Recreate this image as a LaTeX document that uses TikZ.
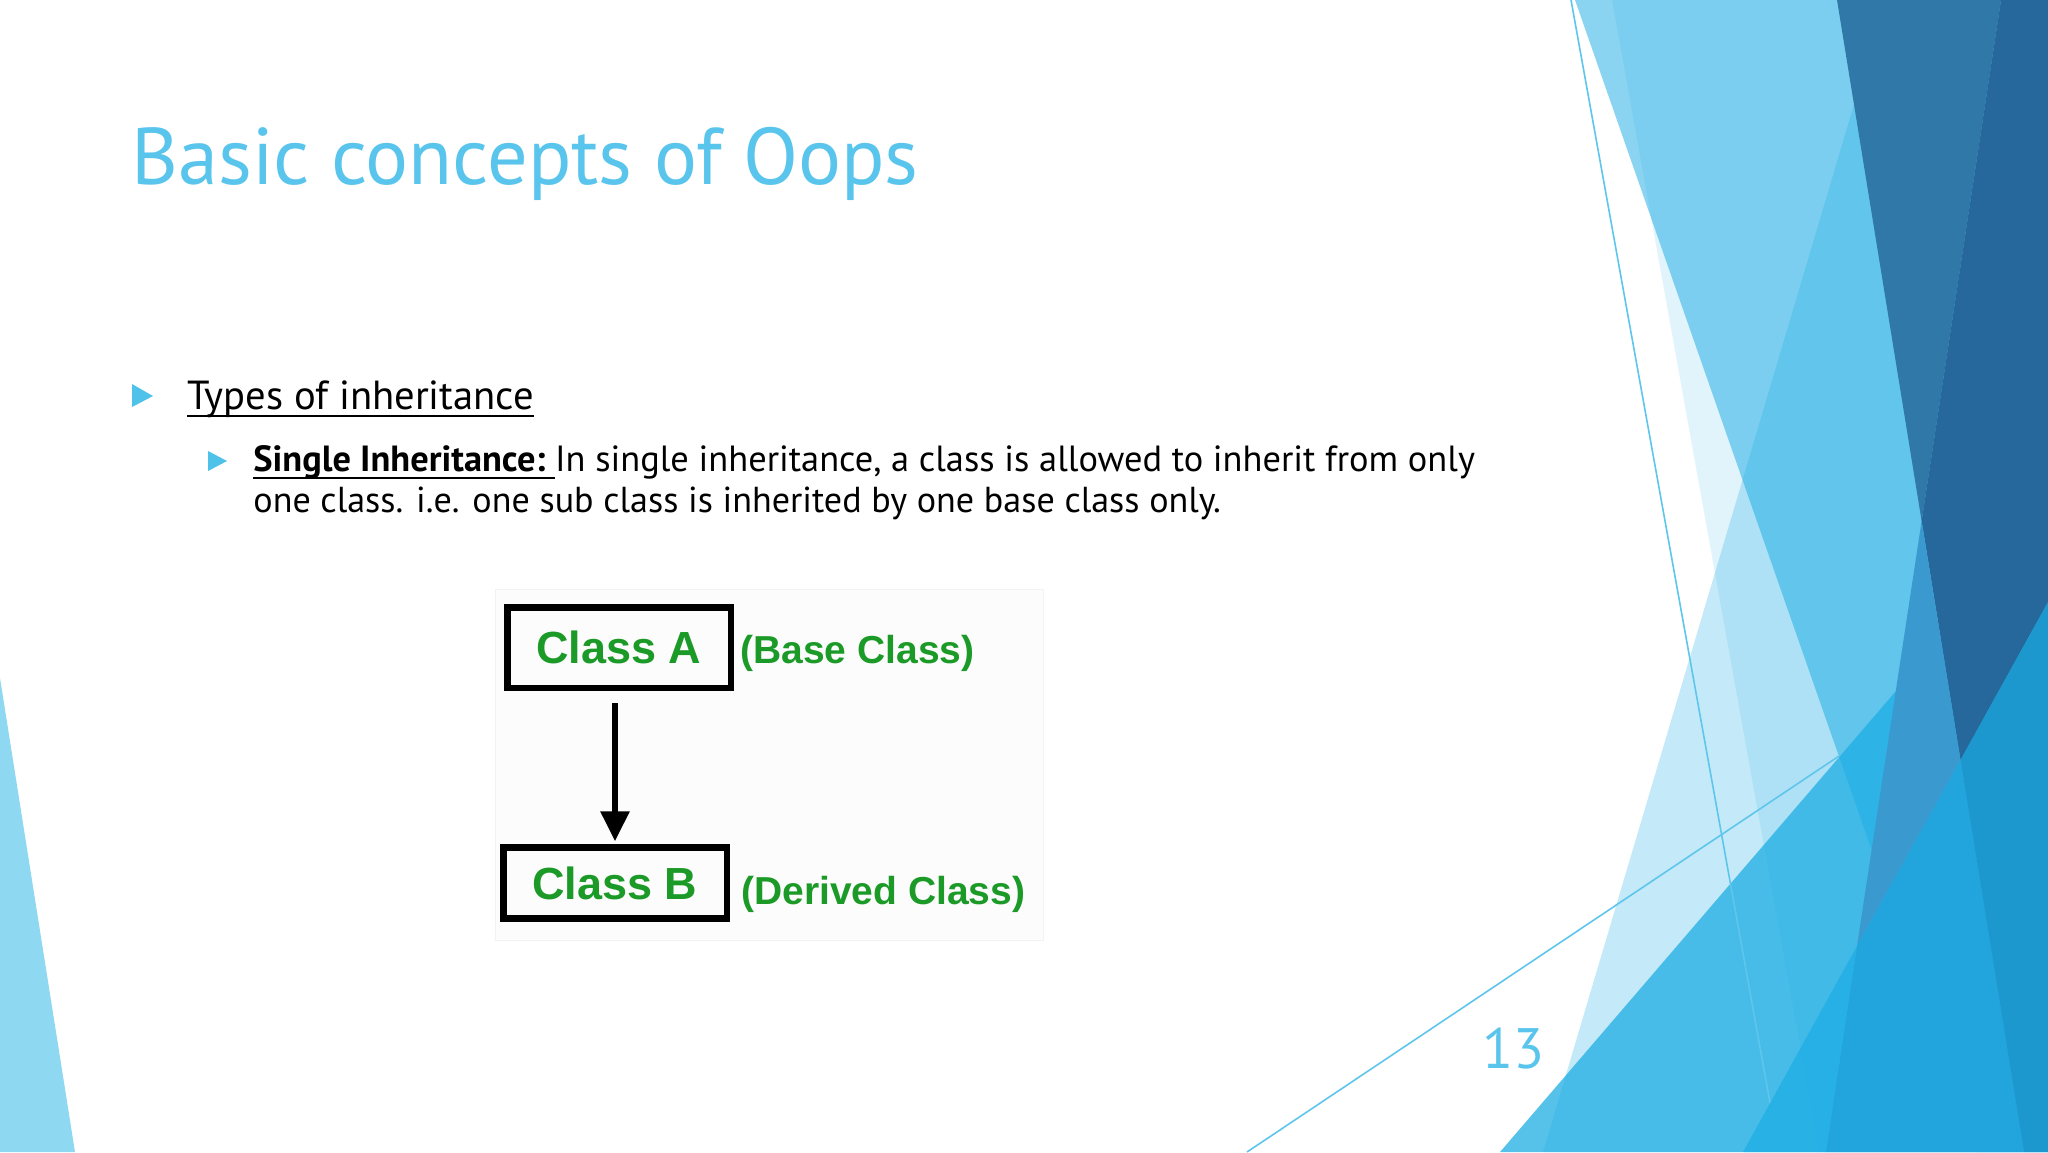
\documentclass[tikz,border=0pt]{standalone}
\usepackage{fontspec}
\setmainfont{PT Sans}
\newfontfamily\diagfont{Liberation Sans}
\usetikzlibrary{arrows.meta}
\definecolor{cyanA}{HTML}{1CADE4}
\definecolor{titleblue}{HTML}{5AC5EC}
\definecolor{bulletblue}{HTML}{4FC2EA}
\definecolor{darkA}{HTML}{2F78A8}
\definecolor{darkB}{HTML}{27689C}
\definecolor{midA}{HTML}{3A9AD0}
\definecolor{tealB}{HTML}{22A5DC}
\definecolor{tealC}{HTML}{1C98CF}
\definecolor{leftblue}{HTML}{8FD8F1}
\definecolor{thinline}{HTML}{5EC6EC}
\definecolor{classgreen}{HTML}{1C9A28}
\newcommand{\slideul}[1]{\setbox0\hbox{#1}\rlap{\rule[-3.8pt]{\wd0}{1pt}}\box0}
\tikzset{
  facet/.style={fill=cyanA, draw=none},
  classbox/.style={draw=black, line width=3.25pt, minimum width=111.75pt, inner sep=0pt, font=\diagfont\bfseries\fontsize{22.5}{24}\selectfont, text=classgreen},
  classnote/.style={anchor=west, inner sep=0pt, font=\diagfont\bfseries\fontsize{19.5}{22}\selectfont, text=classgreen},
  bodytext/.style={anchor=base west, inner sep=0pt, text=black},
  thin/.style={draw=thinline, line width=0.8pt}
}
\begin{document}
\begin{tikzpicture}[x=0.5pt,y=-0.5pt]
\useasboundingbox (0,0) rectangle (2048,1152);
\fill[white] (0,0) rectangle (2048,1152);
\begin{scope}
\clip (0,0) rectangle (2048,1152);
% left triangle
\fill[leftblue] (0,678) -- (75,1152) -- (0,1152) -- cycle;
% right facets
\fill[facet, fill opacity=0.515] (1575,0) -- (2048,0) -- (2048,1152) -- (1977,1152) -- cycle;
\fill[facet, fill opacity=0.13] (1612,0) -- (2048,0) -- (2048,1152) -- (1819,1152) -- cycle;
\fill[facet, fill opacity=0.26] (1885,0) -- (2048,0) -- (2048,1152) -- (1543,1152) -- cycle;
\fill[facet, fill opacity=0.74] (1500,1152) -- (2048,514) -- (2048,1152) -- cycle;
\coordinate (la1) at (1571,0);
\coordinate (la2) at (1770,1103);
\coordinate (lb1) at (1247,1152);
\coordinate (lb2) at (1839,756);
\draw[thin] (la1) -- (la2);
\draw[thin] (lb1) -- (lb2);
\fill[darkA] (1837,0) -- (2001,0) -- (1921.6,521) -- cycle;
\fill[darkB] (2001,0) -- (2048,0) -- (2048,602) -- (1960.5,760) -- (1921.6,521) -- cycle;
\fill[midA] (1921.6,521) -- (1857,946) -- (1960.5,760) -- cycle;
\fill[facet, fill opacity=0.72] (1743,1152) -- (1857,946) -- (1826,1152) -- cycle;
\fill[tealB] (1857,946) -- (1960.5,760) -- (2024,1152) -- (1826,1152) -- cycle;
\fill[tealC] (1960.5,760) -- (2048,602) -- (2048,1152) -- (2024,1152) -- cycle;
\end{scope}
% title
\node[anchor=base west, inner sep=0pt, text=titleblue, font=\fontsize{40.2}{46}\selectfont] (title) at (131,184) {Basic concepts of Oops};
% bullets
\fill[bulletblue] (132,384) -- (153,396) -- (132,407) -- cycle;
\fill[bulletblue] (208,451) -- (227,461) -- (208,471) -- cycle;
\node[bodytext, font=\fontsize{20.3}{24}\selectfont] (t1) at (187,409) {\slideul{Types of inheritance}};
\node[bodytext, font=\fontsize{18.2}{22}\selectfont] (t2) at (253,471) {\slideul{\textbf{Single Inheritance:}\ }In single inheritance, a class is allowed to inherit from only};
\node[bodytext, font=\fontsize{18.05}{22}\selectfont] (t3) at (253,512) {one class. i.e. one sub class is inherited by one base class only.};
% diagram picture
\filldraw[fill=black!1, draw=black!5, line width=0.5pt] (495,589) rectangle (1043,940);
\node[classbox, minimum height=40.25pt] (A) at (619,647.5) {Class A};
\node[classbox, minimum height=35.5pt] (B) at (615,883) {Class B};
\draw[line width=3pt, -{Triangle[length=15pt,width=14pt]}, shorten <=6pt, shorten >=1.5pt] (A.south -| B.north) -- (B.north);
\node[classnote] (base) at (740,653) {(Base Class)};
\node[classnote] (derived) at (741,894) {(Derived Class)};
% slide number
\node[anchor=base west, inner sep=0pt, text=titleblue, font=\fontsize{28.5}{32}\selectfont] (num) at (1482,1068) {13};
\end{tikzpicture}
\end{document}
